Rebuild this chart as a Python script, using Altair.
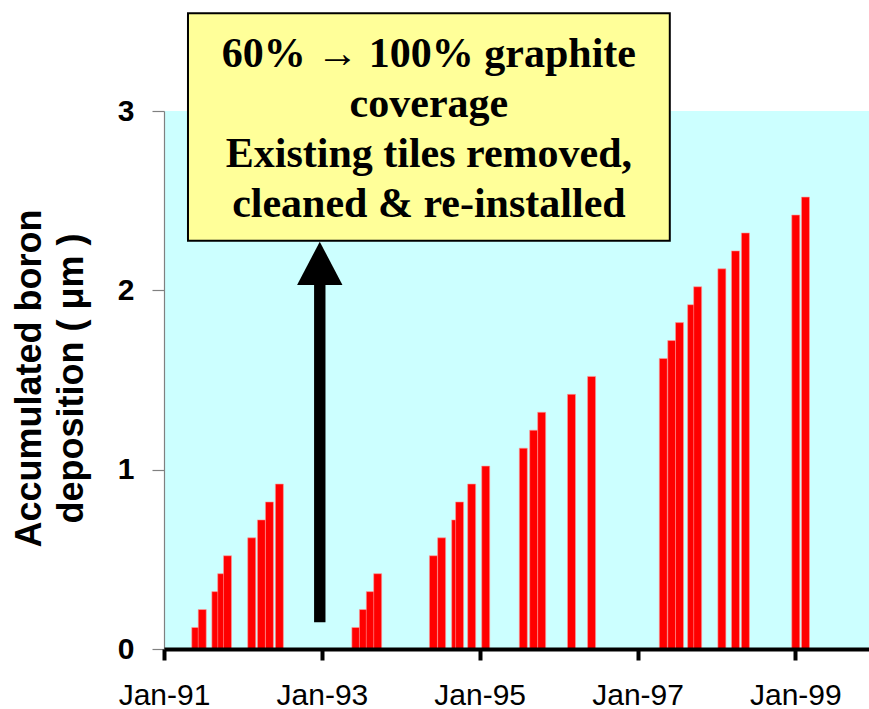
import altair as alt
import pandas as pd

# Boronization dates and accumulated boron deposition (µm)
dates = [
    "1991-05-28", "1991-06-27", "1991-08-29", "1991-09-25", "1991-10-22",
    "1992-02-11", "1992-03-27", "1992-05-03", "1992-06-18",
    "1993-06-07", "1993-07-12", "1993-08-13", "1993-09-16",
    "1994-06-01", "1994-07-09", "1994-09-12", "1994-09-30", "1994-11-25", "1995-01-29",
    "1995-07-22", "1995-09-08", "1995-10-15", "1996-03-01", "1996-06-02",
    "1997-04-30", "1997-06-08", "1997-07-14", "1997-09-08", "1997-10-06",
    "1998-01-26", "1998-03-30", "1998-05-15",
    "1999-01-03", "1999-02-17",
]
deposition = [
    0.12, 0.22, 0.32, 0.42, 0.52,
    0.62, 0.72, 0.82, 0.92,
    0.12, 0.22, 0.32, 0.42,
    0.52, 0.62, 0.72, 0.82, 0.92, 1.02,
    1.12, 1.22, 1.32, 1.42, 1.52,
    1.62, 1.72, 1.82, 1.92, 2.02,
    2.12, 2.22, 2.32,
    2.42, 2.52,
]

tick_years = [1991, 1993, 1995, 1997, 1999]
y_ticks = [0, 1, 2, 3]

# Annotation: tile change-out in early 1993
note_lines = [
    "60% \u2192 100% graphite",
    "coverage",
    "Existing tiles removed,",
    "cleaned & re-installed",
]
note_box = {"start": "1991-04-22", "end": "1997-05-30", "low": 2.277, "high": 3.545}
note_text = {"date": "1994-05-11", "y": 3.247}
event = {"date": "1992-12-22", "tail": 0.149, "neck": 2.04, "head": 2.1505}

bars_df = pd.DataFrame({"date": dates, "deposition": deposition})
box_df = pd.DataFrame([note_box])
text_df = pd.DataFrame([{"date": note_text["date"], "y": note_text["y"],
                         "label": "\n".join(note_lines)}])
arrow_df = pd.DataFrame([event])

xscale = alt.Scale(
    type="utc",
    domain=[alt.DateTime(year=1991, month=1, date=1, utc=True),
            alt.DateTime(year=1999, month=12, date=8, utc=True)],
    nice=False,
    padding=0,
)
yscale = alt.Scale(domain=[0, 3], nice=False, zero=False, padding=0)

xaxis = alt.Axis(
    values=[alt.DateTime(year=y, month=1, date=1, utc=True) for y in tick_years],
    format="%b-%y",
    title=None,
    grid=False,
    labelFont="Liberation Sans",
    labelFontSize=30,
    labelColor="black",
    labelPadding=20,
    labelFlush=False,
    labelOverlap=False,
    domainColor="black",
    domainWidth=4,
    tickColor="black",
    tickWidth=4,
    tickSize=11,
    zindex=1,
)
yaxis = alt.Axis(
    values=y_ticks,
    format="d",
    title=["Accumulated boron", "deposition ( \u03bcm )"],
    grid=False,
    labelFont="Liberation Sans",
    labelFontWeight="bold",
    labelFontSize=30,
    labelColor="black",
    labelPadding=18,
    labelFlush=False,
    domainColor="#808080",
    domainWidth=1.2,
    tickColor="#808080",
    tickWidth=1.2,
    tickSize=12,
    titleFont="Liberation Sans",
    titleFontWeight="bold",
    titleFontSize=36,
    titleColor="black",
    titleAngle=270,
    titleAlign="center",
    titleBaseline="alphabetic",
    titleLineHeight=42,
    titleX=-124,
    titleY=267,
)


def X(field):
    return alt.X(field, type="temporal", scale=xscale, axis=xaxis)


def Y(field):
    return alt.Y(field, type="quantitative", scale=yscale, axis=yaxis)


bars = alt.Chart(bars_df).mark_bar(
    size=8, color="#FF0000", stroke="#FF9C9C", strokeWidth=0.6
).encode(x=X("date"), y=Y("deposition"))

box = alt.Chart(box_df).mark_rect(
    fill="#FFFF99", stroke="black", strokeWidth=2
).encode(x=X("start"), x2="end", y=Y("low"), y2="high")

text = alt.Chart(text_df).mark_text(
    font="Liberation Serif", fontWeight="bold", fontSize=42, lineHeight=50,
    align="center", baseline="alphabetic", color="black", lineBreak="\n"
).encode(x=X("date"), y=Y("y"), text="label:N")

shaft = alt.Chart(arrow_df).mark_rule(
    color="black", strokeWidth=11.4, strokeCap="butt"
).encode(x=X("date"), y=Y("tail"), y2="neck")

head = alt.Chart(arrow_df).mark_point(
    shape="M0,-0.954L1,0.954L-1,0.954Z", size=2061, filled=True,
    color="black", opacity=1
).encode(x=X("date"), y=Y("head"))

chart = alt.layer(bars, box, text, shaft, head).properties(
    width=705,
    height=538,
    padding={"left": 164, "top": 111, "right": 0, "bottom": 60},
    autosize=alt.AutoSizeParams(type="none"),
    background="white",
).configure_view(fill="#CCFFFF", strokeWidth=0)

chart.save("out.html", embed_options={"renderer": "svg", "actions": False})
